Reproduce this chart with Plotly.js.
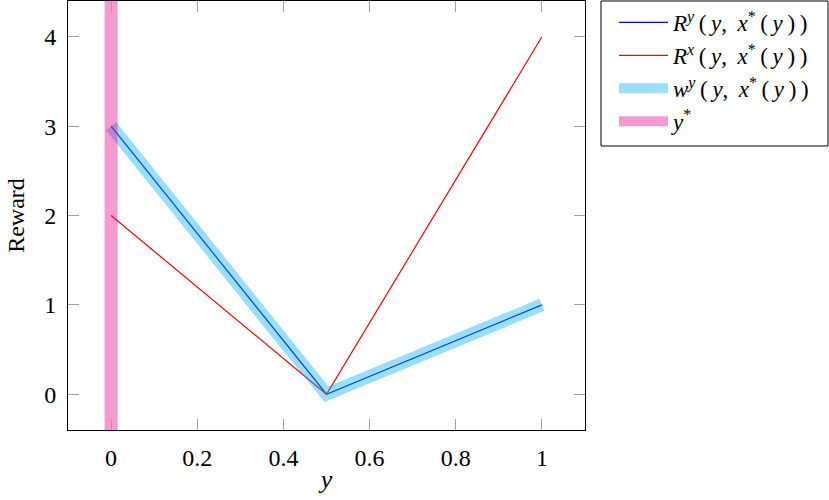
<!DOCTYPE html>
<html>
<head>
<meta charset="utf-8">
<script src="https://cdn.plot.ly/plotly-3.0.1.min.js"></script>
<style>html,body{margin:0;padding:0;background:#fff;}#chart{width:829px;height:500px;}</style>
</head>
<body>
<div id="chart"></div>
<script>
// Data
const yValues = [0, 0.5, 1];
const rewardY = [3, 0, 1];      // R^y(y, x*(y))
const rewardX = [2, 0, 4];      // R^x(y, x*(y))
const welfareY = [3, 0, 1];     // w^y(y, x*(y))
const yStar = 0;                // y*
const xRange = [-0.1, 1.1];
const yRange = [-0.4, 4.4];
const xTicks = [0, 0.2, 0.4, 0.6, 0.8, 1];
const xTickText = ['0', '0.2', '0.4', '0.6', '0.8', '1'];
const yTicks = [0, 1, 2, 3, 4];
const yTickText = ['0', '1', '2', '3', '4'];
const T = '\u2009';
function arg(sym, sup) {
  return '<i>' + sym + '</i><sup><i>' + sup + '</i></sup>' + T + '(' + T + '<i>y</i>,' + T + ' <i>x</i><sup>*</sup>' + T + '(' + T + '<i>y</i>' + T + ')' + T + ')';
}
const seriesNames = [
  arg('R', 'y'),
  arg('R', 'x'),
  arg('w', 'y'),
  '<i>y</i><sup>*</sup>'
];

const FONT = 'Liberation Serif';

const traces = [
  {x: yValues, y: rewardY, mode: 'lines', name: seriesNames[0], line: {color: 'rgb(0,0,230)', width: 1.2}},
  {x: yValues, y: rewardX, mode: 'lines', name: seriesNames[1], line: {color: 'rgb(255,0,0)', width: 1.2}},
  {x: yValues, y: welfareY, mode: 'lines', name: seriesNames[2], line: {color: 'rgba(0,174,239,0.4)', width: 13}},
  {x: [yStar, yStar], y: yRange, mode: 'lines', name: seriesNames[3], line: {color: 'rgba(236,0,140,0.4)', width: 13}}
];

function axisCommon() {
  return {
    showgrid: false, zeroline: false, showline: true, linecolor: '#000', linewidth: 1,
    mirror: 'ticks', ticks: 'inside', ticklen: 11, tickcolor: '#a0a0a0', tickwidth: 1,
    tickfont: {family: FONT, size: 24, color: '#000'}, ticklabelstandoff: 6
  };
}

const layout = {
  width: 829, height: 500,
  margin: {l: 68, r: 244, t: 1, b: 70},
  paper_bgcolor: '#fff', plot_bgcolor: '#fff',
  font: {family: FONT, size: 24, color: '#000'},
  xaxis: Object.assign(axisCommon(), {
    range: xRange, tickmode: 'array', tickvals: xTicks, ticktext: xTickText,
    title: {text: '<i>y</i>', font: {family: FONT, size: 26, color: '#000'}, standoff: 0}
  }),
  yaxis: Object.assign(axisCommon(), {
    range: yRange, tickmode: 'array', tickvals: yTicks, ticktext: yTickText,
    title: {text: 'Reward', font: {family: FONT, size: 24, color: '#000'}, standoff: 12}
  }),
  shapes: [{
    type: 'rect', xref: 'paper', yref: 'paper',
    x0: (601 - 68) / 517, x1: (828 - 68) / 517,
    y0: (430 - 146) / 429, y1: (430 - 1) / 429,
    line: {color: '#000', width: 1}, fillcolor: 'rgba(0,0,0,0)', layer: 'above'
  }],
  showlegend: true,
  legend: {
    x: (614 - 68) / 517, xanchor: 'left', y: (430 - 1) / 429, yanchor: 'top',
    borderwidth: 0, bgcolor: 'rgba(0,0,0,0)',
    font: {family: FONT, size: 23, color: '#000'},
    itemwidth: 49, tracegroupgap: 0
  }
};

Plotly.newPlot('chart', traces, layout, {displayModeBar: false, staticPlot: true});
</script>
</body>
</html>
